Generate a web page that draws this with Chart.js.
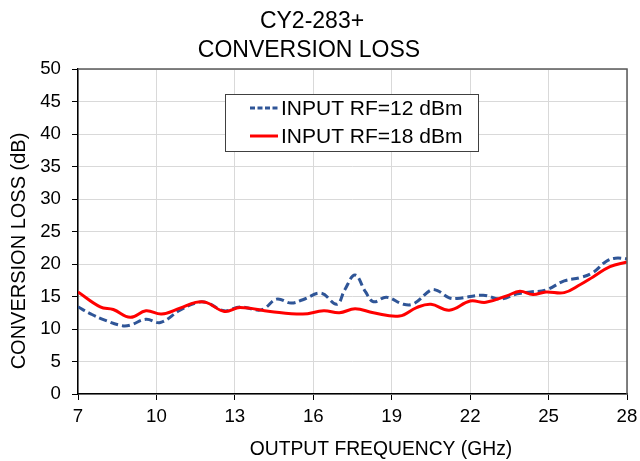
<!DOCTYPE html>
<html><head><meta charset="utf-8">
<script src="https://cdn.jsdelivr.net/npm/chart.js@4"></script>
<style>html,body{margin:0;padding:0;background:#fff}canvas{display:block}</style>
</head><body>
<canvas id="c" width="640" height="461"></canvas>
<script>
const titleLines = ["CY2-283+", "CONVERSION LOSS"];
const xAxisTitle = "OUTPUT FREQUENCY (GHz)";
const yAxisTitle = "CONVERSION LOSS (dB)";
const xTicks = [7, 10, 13, 16, 19, 22, 25, 28];
const yTicks = [0, 5, 10, 15, 20, 25, 30, 35, 40, 45, 50];
const seriesNames = ["INPUT RF=12 dBm", "INPUT RF=18 dBm"];

const freq12 = [7.0, 7.5, 8.0, 8.7, 9.0, 9.6, 10.15, 10.9, 11.5, 11.9, 12.6, 13.2, 13.9, 14.15, 14.6, 15.15, 15.6, 16.3, 16.9, 17.2, 17.6, 18.0, 18.3, 18.8, 19.45, 19.85, 20.5, 20.75, 21.2, 21.5, 22.5, 23.15, 23.8, 24.3, 24.9, 25.6, 26.2, 26.7, 27.2, 27.55, 28.0];
const loss12 = [13.4, 12.3, 11.4, 10.5, 10.6, 11.5, 11.0, 12.9, 14.0, 14.1, 12.8, 13.4, 12.9, 13.2, 14.6, 14.0, 14.5, 15.5, 13.8, 16.0, 18.3, 15.7, 14.2, 14.9, 13.8, 13.9, 16.0, 15.9, 14.8, 14.7, 15.2, 14.6, 15.4, 15.7, 16.0, 17.4, 17.9, 18.7, 20.4, 20.9, 20.8];

const freq18 = [7.0, 7.85, 8.35, 9.0, 9.6, 10.2, 10.9, 11.5, 11.9, 12.6, 13.2, 14.35, 15.6, 16.4, 17.0, 17.6, 18.3, 19.3, 19.95, 20.5, 21.2, 22.0, 22.6, 23.4, 23.9, 24.4, 24.9, 25.6, 26.2, 26.7, 27.35, 28.0];
const loss18 = [15.7, 13.4, 13.0, 11.8, 12.8, 12.3, 13.2, 14.1, 14.1, 12.7, 13.3, 12.7, 12.3, 12.8, 12.5, 13.1, 12.5, 12.0, 13.3, 13.8, 12.9, 14.3, 14.1, 15.1, 15.8, 15.3, 15.7, 15.6, 16.8, 18.0, 19.6, 20.3];

const FONT = "'Liberation Sans', Arial, sans-serif";
const BLUE = '#2F5597';
const RED = '#FF0000';
const BLUE_DASH = [8, 4];

const toXY = (xs, ys) => xs.map((x, i) => ({x: x, y: ys[i]}));

const decorPlugin = {
  id: 'decor',
  afterDraw(chart) {
    const ctx = chart.ctx;
    const a = chart.chartArea;
    ctx.save();
    // plot frame top/right
    ctx.strokeStyle = '#595959';
    ctx.lineWidth = 1.5;
    ctx.beginPath();
    ctx.moveTo(a.left, a.top);
    ctx.lineTo(a.right, a.top);
    ctx.lineTo(a.right, a.bottom);
    ctx.stroke();
    // title
    ctx.fillStyle = '#000';
    ctx.textAlign = 'center';
    ctx.textBaseline = 'middle';
    ctx.font = '23px ' + FONT;
    ctx.fillText(titleLines[0], 312, 22);
    ctx.fillText(titleLines[1], 309, 51);
    // axis titles
    ctx.font = '19.3px ' + FONT;
    ctx.fillText(xAxisTitle, 381, 450);
    ctx.save();
    ctx.translate(19, 251);
    ctx.rotate(-Math.PI / 2);
    ctx.font = '20px ' + FONT;
    ctx.fillText(yAxisTitle, 0, 0);
    ctx.restore();
    // legend
    const lx = 225, ly = 94, lw = 253, lh = 57;
    ctx.fillStyle = '#fff';
    ctx.fillRect(lx, ly, lw, lh);
    ctx.strokeStyle = '#404040';
    ctx.lineWidth = 1;
    ctx.strokeRect(lx + 0.5, ly + 0.5, lw, lh);
    const rows = [
      {y: 108, color: BLUE, dash: [5, 2.5], name: seriesNames[0]},
      {y: 136, color: RED, dash: [], name: seriesNames[1]}
    ];
    ctx.font = '21px ' + FONT;
    ctx.textAlign = 'left';
    rows.forEach(r => {
      ctx.strokeStyle = r.color;
      ctx.lineWidth = 3;
      ctx.setLineDash(r.dash);
      ctx.beginPath();
      ctx.moveTo(250, r.y);
      ctx.lineTo(278, r.y);
      ctx.stroke();
      ctx.setLineDash([]);
      ctx.fillStyle = '#000';
      ctx.fillText(r.name, 281, r.y + 1);
    });
    ctx.restore();
  }
};

new Chart(document.getElementById('c'), {
  type: 'line',
  data: {
    datasets: [
      {
        label: seriesNames[1],
        data: toXY(freq18, loss18),
        borderColor: RED,
        borderWidth: 3,
        pointRadius: 0,
        tension: 0.4,
        fill: false
      },
      {
        label: seriesNames[0],
        data: toXY(freq12, loss12),
        borderColor: BLUE,
        borderWidth: 3,
        borderDash: BLUE_DASH,
        pointRadius: 0,
        tension: 0.4,
        fill: false
      }
    ]
  },
  options: {
    responsive: false,
    animation: false,
    devicePixelRatio: 1,
    layout: {padding: {top: 69, right: 13, left: 0, bottom: 0}},
    plugins: {
      legend: {display: false},
      title: {display: false},
      tooltip: {enabled: false}
    },
    scales: {
      x: {
        type: 'linear',
        min: 7,
        max: 28,
        afterFit(s) { s.height = 67; s.paddingLeft = 0; s.paddingRight = 0; },
        afterBuildTicks(s) { s.ticks = xTicks.map(v => ({value: v})); },
        grid: {color: '#d9d9d9', lineWidth: 1, tickColor: '#000', tickLength: 6, drawTicks: true},
        border: {color: '#000', width: 1.5},
        ticks: {color: '#000', font: {family: FONT, size: 18.67}, padding: 6, maxRotation: 0}
      },
      y: {
        type: 'linear',
        min: 0,
        max: 50,
        afterFit(s) { s.width = 78; s.paddingTop = 0; s.paddingBottom = 0; },
        afterBuildTicks(s) { s.ticks = yTicks.map(v => ({value: v})); },
        grid: {color: '#d9d9d9', lineWidth: 1, tickColor: '#000', tickLength: 6, drawTicks: true},
        border: {color: '#000', width: 1.5},
        ticks: {color: '#000', font: {family: FONT, size: 18.67}, padding: 11}
      }
    }
  },
  plugins: [decorPlugin]
});
</script>
</body></html>
